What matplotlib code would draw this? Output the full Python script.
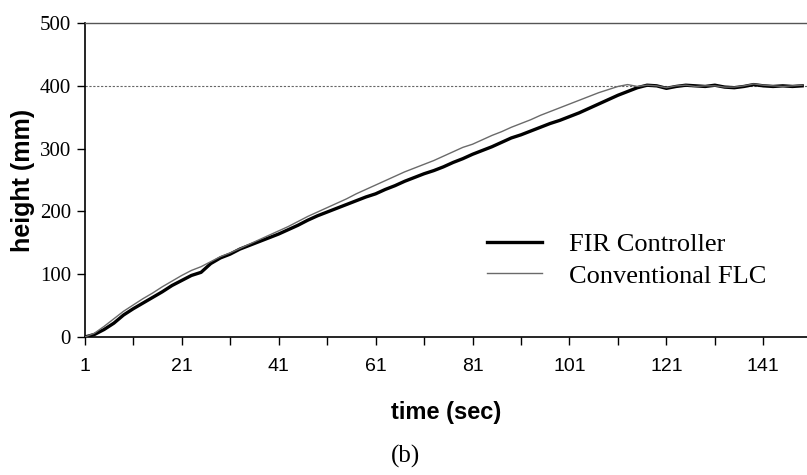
import numpy as np
import matplotlib
matplotlib.use('Agg')
import matplotlib.pyplot as plt

# time samples (sec)
t = list(range(1, 151, 2))

# FIR controller (thick line)
fir = [0, 4, 12, 22, 35, 45, 54, 63, 72, 82,
       90, 98, 103, 117, 126, 132, 140, 146, 152, 158,
       164, 171, 178, 186, 193, 199, 205, 211, 217, 223,
       228, 235, 241, 248, 254, 260, 265, 271, 278, 284,
       291, 297, 303, 310, 317, 322, 328, 334, 340, 345,
       351, 357, 364, 371, 378, 385, 391, 397, 401, 400,
       396, 399, 401, 400, 399, 401, 398, 397, 399, 402,
       400, 399, 400, 399, 400]

# conventional FLC (thin line)
flc = [0, 6, 17, 29, 41, 51, 61, 70, 80, 89,
       98, 106, 112, 120, 128, 134, 141, 148, 155, 162,
       169, 176, 184, 192, 199, 206, 213, 220, 228, 235,
       242, 249, 256, 263, 269, 275, 281, 288, 295, 302,
       307, 314, 321, 327, 334, 340, 346, 353, 359, 365,
       371, 377, 383, 389, 394, 399, 402, 399, 401, 400,
       397, 400, 401, 399, 400, 400, 398, 398, 400, 403,
       401, 400, 399, 400, 401]

xticks = [1, 21, 41, 61, 81, 101, 121, 141]
yticks = [0, 100, 200, 300, 400, 500]

fig = plt.figure(figsize=(8.07, 4.75), dpi=100)
ax = fig.add_axes([0.105, 0.2905, 0.895, 0.661])

ax.axhline(400, color='#666666', lw=0.8, ls=(0, (2, 1.5)), zorder=1)
ax.plot(t, fir, color='black', lw=2.4, label='FIR Controller', zorder=3)
ax.plot(t, flc, color='#6a6a6a', lw=1.0, label='Conventional FLC', zorder=4)

ax.set_xlim(1, 150)
ax.set_ylim(0, 500)
ax.set_xticks(xticks)
ax.set_xticks(list(range(11, 150, 20)), minor=True)
ax.set_yticks(yticks)
ax.tick_params(axis='x', which='both', direction='out', length=6, width=1, pad=9,
               labelsize=14, labelfontfamily='Liberation Sans')
ax.tick_params(axis='y', direction='out', length=6, width=1, pad=4,
               labelsize=15, labelfontfamily='Liberation Serif')

ax.spines['right'].set_visible(False)
ax.spines['top'].set_color('#555555')
ax.spines['top'].set_linewidth(1.0)
ax.spines['left'].set_linewidth(1.2)
ax.spines['bottom'].set_linewidth(1.2)

ax.set_xlabel('time (sec)', fontsize=17, fontweight='bold', family='Liberation Sans', labelpad=19)
ax.set_ylabel('height (mm)', fontsize=18, fontweight='bold', family='Liberation Sans', labelpad=3)

leg = ax.legend(loc='center left', bbox_to_anchor=(0.557, 0.245), frameon=False,
                prop={'family': 'Liberation Serif', 'size': 19},
                handlelength=2.1, handletextpad=1.0, labelspacing=0.3,
                borderpad=0, borderaxespad=0)

fig.text(0.502, 0.038, '(b)', ha='center', va='center', fontsize=18, family='Liberation Serif')

fig.savefig('out.png', dpi=100)
